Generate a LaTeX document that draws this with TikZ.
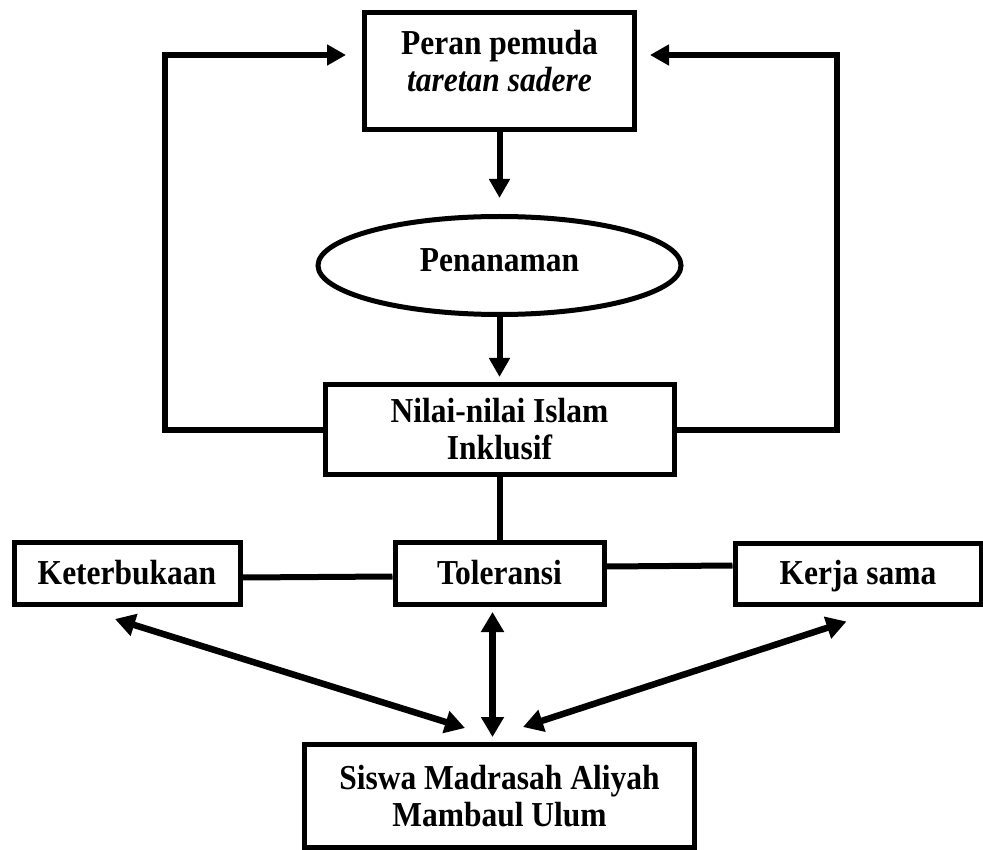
\documentclass[tikz,border=0pt]{standalone}
\usepackage{fontspec}
\setmainfont{Liberation Serif}[FakeStretch=0.9]
\usepackage{tikz}
\usetikzlibrary{positioning, arrows.meta, shapes.geometric}
\tikzstyle{block} = [rectangle, draw=black, fill=white, line width=5pt, inner sep=0pt, text centered, align=center, font=\fontsize{35}{37}\selectfont\bfseries]
\tikzstyle{single} = [text height=24pt, text depth=3pt]
\tikzstyle{oval} = [ellipse, draw=black, fill=white, line width=5pt, inner sep=0pt, text centered, text height=24pt, text depth=12pt, font=\fontsize{35}{37}\selectfont\bfseries]
\tikzstyle{link} = [line width=6pt]
\tikzstyle{arrow} = [line width=6pt, -{Triangle[length=19pt,width=20pt]}]
\tikzstyle{darrow} = [line width=6.5pt, {Triangle[length=20pt,width=22pt]}-{Triangle[length=20pt,width=22pt]}]

\begin{document}
\begin{tikzpicture}[x=1pt, y=-1pt, node distance=150pt, on grid]
	\useasboundingbox[fill=white] (0,0) rectangle (983,850);
	\node (peran) [block, minimum width=270pt, minimum height=117pt, text depth=20pt] at (499.5,71) {Peran pemuda\\\textit{taretan sadere}};
	\node (penanaman) [oval, minimum width=363pt, minimum height=98pt, below=194.5pt of peran] {Penanaman};
	\node (nilai) [block, minimum width=349pt, minimum height=90pt, below=164pt of penanaman] {Nilai-nilai Islam\\Inklusif};
	
	\node (toleransi) [block, single, minimum width=209pt, minimum height=62pt, below=144pt of nilai] {Toleransi};
	\node (keterbukaan) [block, single, minimum width=226pt, minimum height=62pt, left=372.5pt of toleransi] {Keterbukaan};
	\node (kerjasama) [block, single, minimum width=246pt, minimum height=61pt, right=358.5pt of toleransi] {Kerja sama};
	
	\node (siswa) [block, minimum width=390pt, minimum height=103pt, below=222.5pt of toleransi] {Siswa Madrasah Aliyah\\Mambaul Ulum};
	
	\coordinate (lefttop) at (165,55);
	\coordinate (righttop) at (837,55);
	
	\draw [arrow, shorten >=16pt] (nilai.west) -| (lefttop) -- (lefttop -| peran.west);
	\draw [arrow, shorten >=13pt] (nilai.east) -| (righttop) -- (righttop -| peran.east);
	\draw [arrow, shorten >=16pt] (peran) -- (penanaman);
	\draw [arrow, shorten >=5pt] (penanaman) -- (nilai);
	
	\draw [link] (nilai) -- (toleransi);
	\draw [link] ([yshift=-4pt]keterbukaan.east) -- ([yshift=-3pt]toleransi.west);
	\draw [link] ([yshift=7pt]toleransi.east) -- ([yshift=8pt]kerjasama.west);
	
	\draw [darrow] ([xshift=-12pt,yshift=-12pt]keterbukaan.south) -- ([xshift=-34.5pt,yshift=14pt]siswa.north);
	\draw [darrow] ([xshift=-7pt,yshift=-5pt]toleransi.south) -- ([xshift=-7pt,yshift=5pt]siswa.north);
	\draw [darrow] ([xshift=-11.5pt,yshift=-15pt]kerjasama.south) -- ([xshift=23.5pt,yshift=15pt]siswa.north);
	
\end{tikzpicture}
\end{document}
